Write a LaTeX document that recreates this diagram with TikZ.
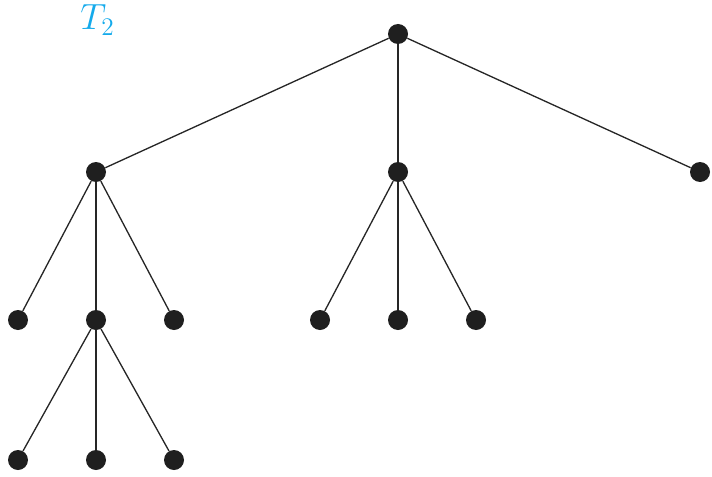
\documentclass[tikz,border=0pt]{standalone}
\usepackage{tikz}
\definecolor{labelblue}{RGB}{20,170,235}
\begin{document}
\begin{tikzpicture}[
  vert/.style={circle, fill=black!88, draw=none, minimum size=0.4cm, inner sep=0pt},
  edge/.style={line width=0.75pt, black!85},
  tlab/.style={text=labelblue, font=\fontsize{21}{23}\selectfont}]
\useasboundingbox (0,0) rectangle (14.24,9.52);
% tree label
\node[tlab] (t) at (1.95,9.12) {$T_2$};
% root
\node[vert] (r) at (7.96,8.84) {};
% level 1
\node[vert] (a) at (1.92,6.08) {};
\node[vert] (b) at (7.96,6.08) {};
\node[vert] (c) at (14.0,6.08) {};
% level 2
\node[vert] (a1) at (0.36,3.12) {};
\node[vert] (a2) at (1.92,3.12) {};
\node[vert] (a3) at (3.48,3.12) {};
\node[vert] (b1) at (6.40,3.12) {};
\node[vert] (b2) at (7.96,3.12) {};
\node[vert] (b3) at (9.52,3.12) {};
% level 3
\node[vert] (d1) at (0.36,0.32) {};
\node[vert] (d2) at (1.92,0.32) {};
\node[vert] (d3) at (3.48,0.32) {};
% edges
\foreach \u/\v in {r/a, r/b, r/c, a/a1, a/a2, a/a3, b/b1, b/b2, b/b3, a2/d1, a2/d2, a2/d3}
  \draw[edge] (\u) -- (\v);
\end{tikzpicture}
\end{document}
